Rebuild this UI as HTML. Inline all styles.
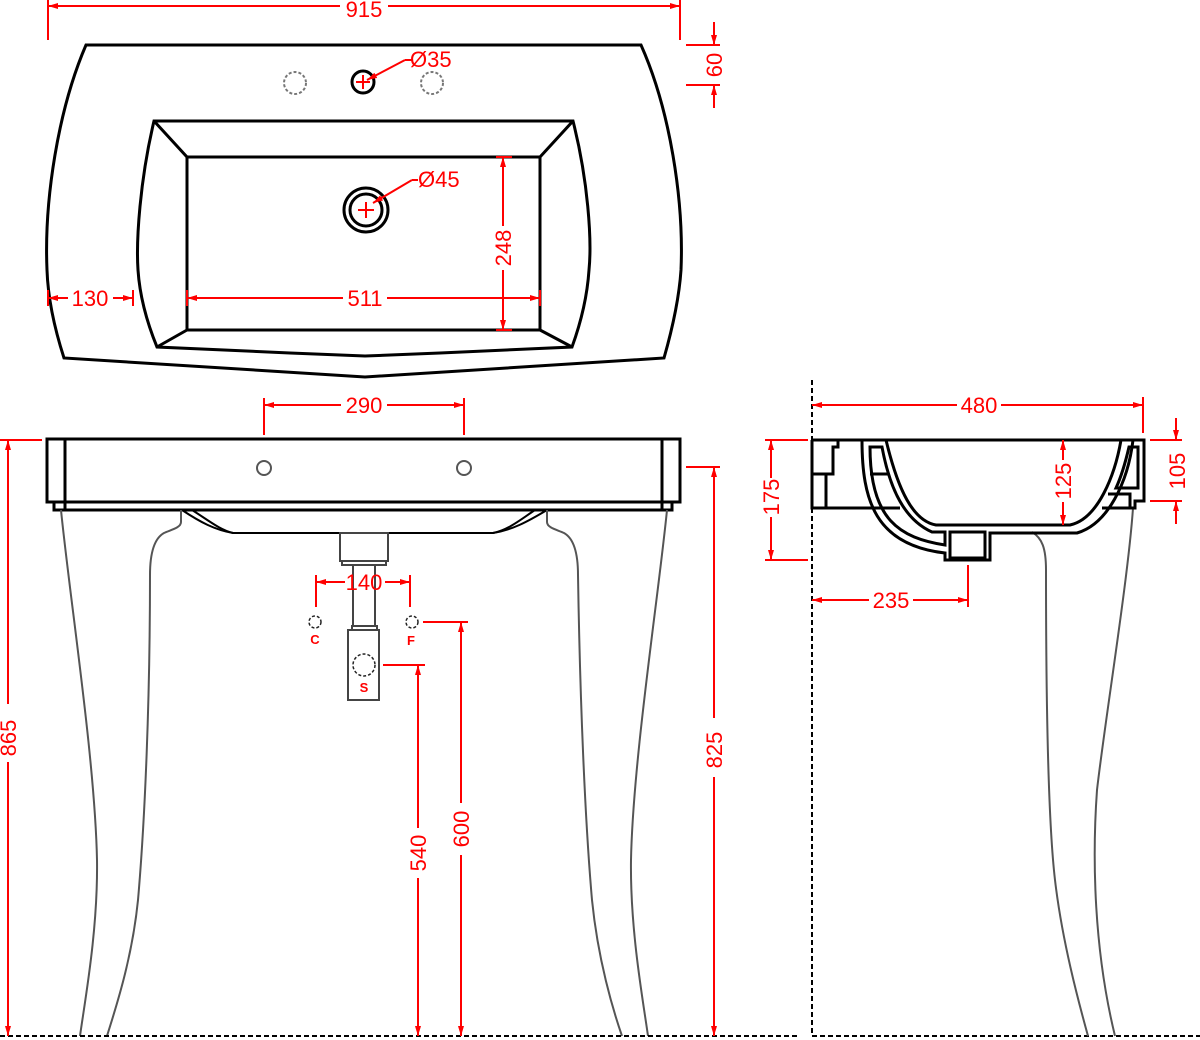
<!DOCTYPE html>
<html><head><meta charset="utf-8"><style>
html,body{margin:0;padding:0;background:#fff;}
svg{display:block;}
text{font-family:"Liberation Sans",sans-serif;fill:#f00;font-size:22px;}
.r{stroke:#f00;stroke-width:2;fill:none;}
.k{stroke:#000;stroke-width:3;fill:none;stroke-linejoin:miter;}
.k2{stroke:#000;stroke-width:2;fill:none;}
.g{stroke:#555;stroke-width:2;fill:none;}
</style></head><body>
<svg width="1200" height="1040" viewBox="0 0 1200 1040" xmlns="http://www.w3.org/2000/svg">
<defs>
<marker id="a" viewBox="0 0 10 6" refX="10" refY="3" markerWidth="10" markerHeight="6" orient="auto-start-reverse" markerUnits="userSpaceOnUse">
<path d="M0,0 L10,3 L0,6 z" fill="#f00"/></marker>
</defs>

<!-- ===== TOP VIEW ===== -->
<path class="k" d="M86,45 L641,45 C670,110 684,200 681,270 C679,300 672,330 664,358 L365,377 L64,358 C55,330 48,300 47,270 C44,200 58,110 86,45 Z"/>
<path class="k" d="M154,121 L573,121 C588,180 592,240 589,270 C587,300 580,325 572,347 L440,353 L365,356 L290,353 L157,347 C148,325 140,300 138,270 C136,240 140,180 154,121 Z"/>
<rect class="k" x="187" y="157" width="353" height="173"/>
<path class="k2" d="M154,121 L187,157 M573,121 L540,157 M157,347 L187,330 M572,347 L540,330" style="stroke-width:3"/>
<circle cx="295" cy="83" r="11" fill="none" stroke="#777" stroke-width="2" stroke-dasharray="3,2"/>
<circle cx="432" cy="83" r="11" fill="none" stroke="#777" stroke-width="2" stroke-dasharray="3,2"/>
<circle cx="363" cy="82" r="11" class="k"/>
<path class="r" d="M356,82 H370 M363,75 V89"/>
<ellipse cx="366" cy="210" rx="22" ry="22" class="k"/>
<ellipse cx="366" cy="210" rx="16" ry="16" class="k"/>
<path class="r" d="M358,210 H374 M366,202 V218"/>
<!-- 915 -->
<path class="r" d="M48,0 V40 M680,0 V40"/>
<line class="r" x1="48" y1="6" x2="340" y2="6" marker-start="url(#a)"/>
<line class="r" x1="388" y1="6" x2="680" y2="6" marker-end="url(#a)"/>
<text x="364" y="17" text-anchor="middle">915</text>
<!-- 60 -->
<path class="r" d="M686,45 H720 M686,85 H720"/>
<line class="r" x1="714" y1="22" x2="714" y2="45" marker-end="url(#a)"/>
<line class="r" x1="714" y1="108" x2="714" y2="85" marker-end="url(#a)"/>
<text transform="translate(722,65) rotate(-90)" text-anchor="middle">60</text>
<!-- Ø35 -->
<line class="r" x1="405" y1="60" x2="367" y2="80" marker-end="url(#a)"/>
<line class="r" x1="405" y1="60" x2="412" y2="60"/>
<text x="410" y="67">Ø35</text>
<!-- Ø45 -->
<line class="r" x1="412" y1="180" x2="373" y2="203" marker-end="url(#a)"/>
<line class="r" x1="412" y1="180" x2="418" y2="180"/>
<text x="418" y="187">Ø45</text>
<!-- 248 -->
<path class="r" d="M496,157 H512 M496,330 H512"/>
<line class="r" x1="503" y1="226" x2="503" y2="157" marker-end="url(#a)"/>
<line class="r" x1="503" y1="270" x2="503" y2="330" marker-end="url(#a)"/>
<text transform="translate(511,248) rotate(-90)" text-anchor="middle">248</text>
<!-- 511 -->
<path class="r" d="M187,290 V306 M540,290 V306"/>
<line class="r" x1="343" y1="298" x2="187" y2="298" marker-end="url(#a)"/>
<line class="r" x1="387" y1="298" x2="540" y2="298" marker-end="url(#a)"/>
<text x="365" y="306" text-anchor="middle">511</text>
<!-- 130 -->
<path class="r" d="M48,290 V306 M133,290 V306"/>
<line class="r" x1="68" y1="298" x2="48" y2="298" marker-end="url(#a)"/>
<line class="r" x1="113" y1="298" x2="133" y2="298" marker-end="url(#a)"/>
<text x="90" y="306" text-anchor="middle">130</text>

<!-- ===== FRONT VIEW ===== -->
<rect class="k" x="47" y="439" width="633" height="63"/>
<path class="k" d="M65,439 V510 M662,439 V510"/>
<path class="k" d="M54,502 V510 H672 V502"/>
<circle cx="264" cy="468" r="7" fill="none" stroke="#555" stroke-width="2"/>
<circle cx="464" cy="468" r="7" fill="none" stroke="#555" stroke-width="2"/>
<path class="k2" d="M182,510 C200,522 215,530 233,533 L493,533 C512,530 527,522 547,510"/>
<path class="k2" d="M192,510 C208,520 220,530 233,533 M535,510 C520,520 508,530 493,533"/>
<g stroke="#444" stroke-width="2" fill="#fff">
<rect x="340" y="533" width="48" height="28"/>
<rect x="342" y="561" width="44" height="4"/>
<rect x="353" y="565" width="22" height="61"/>
<rect x="352" y="626" width="25" height="4"/>
<rect x="348" y="630" width="31" height="70"/>
</g>
<circle cx="315" cy="622" r="6" fill="none" stroke="#222" stroke-width="1.5" stroke-dasharray="3,2"/>
<circle cx="412" cy="622" r="6" fill="none" stroke="#222" stroke-width="1.5" stroke-dasharray="3,2"/>
<circle cx="364" cy="665" r="11" fill="none" stroke="#222" stroke-width="1.5" stroke-dasharray="3,2"/>
<text x="315" y="644" text-anchor="middle" style="font-size:13px;font-weight:bold">C</text>
<text x="411" y="645" text-anchor="middle" style="font-size:13px;font-weight:bold">F</text>
<text x="364" y="692" text-anchor="middle" style="font-size:13px;font-weight:bold">S</text>
<path class="g" d="M61,510 C70,600 95,760 97,860 C98,930 85,1000 80,1036"/>
<path class="g" d="M181,510 V522 C181,528 170,530 164,533 C155,538 150,552 150,575 C150,700 145,820 138,900 C132,960 115,1010 107,1036"/>
<path class="g" d="M667,510 C658,600 633,760 631,860 C630,930 643,1000 648,1036"/>
<path class="g" d="M547,510 V522 C547,528 558,530 564,533 C573,538 578,552 578,575 C580,700 585,820 592,900 C598,960 613,1010 622,1036"/>
<line x1="0" y1="1036" x2="800" y2="1036" stroke="#000" stroke-width="2" stroke-dasharray="5,3"/>
<line x1="812" y1="1036" x2="1200" y2="1036" stroke="#000" stroke-width="2" stroke-dasharray="5,3"/>
<!-- 290 -->
<path class="r" d="M264,398 V435 M464,398 V435"/>
<line class="r" x1="341" y1="405" x2="264" y2="405" marker-end="url(#a)"/>
<line class="r" x1="387" y1="405" x2="464" y2="405" marker-end="url(#a)"/>
<text x="364" y="413" text-anchor="middle">290</text>
<!-- 865 -->
<path class="r" d="M0,440 H42"/>
<line class="r" x1="8" y1="704" x2="8" y2="440" marker-end="url(#a)"/>
<line class="r" x1="8" y1="762" x2="8" y2="1036" marker-end="url(#a)"/>
<text transform="translate(16,738) rotate(-90)" text-anchor="middle">865</text>
<!-- 825 -->
<path class="r" d="M686,467 H720"/>
<line class="r" x1="714" y1="718" x2="714" y2="467" marker-end="url(#a)"/>
<line class="r" x1="714" y1="777" x2="714" y2="1036" marker-end="url(#a)"/>
<text transform="translate(722,750) rotate(-90)" text-anchor="middle">825</text>
<!-- 600 -->
<path class="r" d="M423,622 H468"/>
<line class="r" x1="461" y1="803" x2="461" y2="622" marker-end="url(#a)"/>
<line class="r" x1="461" y1="855" x2="461" y2="1036" marker-end="url(#a)"/>
<text transform="translate(469,829) rotate(-90)" text-anchor="middle">600</text>
<!-- 540 -->
<path class="r" d="M383,665 H425"/>
<line class="r" x1="418" y1="828" x2="418" y2="665" marker-end="url(#a)"/>
<line class="r" x1="418" y1="878" x2="418" y2="1036" marker-end="url(#a)"/>
<text transform="translate(426,853) rotate(-90)" text-anchor="middle">540</text>
<!-- 140 -->
<path class="r" d="M316,575 V607 M410,575 V607"/>
<line class="r" x1="345" y1="582" x2="316" y2="582" marker-end="url(#a)"/>
<line class="r" x1="385" y1="582" x2="410" y2="582" marker-end="url(#a)"/>
<text x="364" y="590" text-anchor="middle">140</text>

<!-- ===== SIDE VIEW ===== -->
<line x1="812" y1="380" x2="812" y2="1036" stroke="#000" stroke-width="2" stroke-dasharray="5,3"/>
<path class="g" d="M1032,532 C1042,538 1046,548 1046,570 C1046,700 1048,820 1055,880 C1062,940 1078,1000 1088,1036"/>
<path class="g" d="M1133,508 C1128,580 1105,720 1097,790 C1092,860 1094,950 1115,1036"/>
<path class="k" d="M812,440 H1144 V501 H1135 V508 H1102"/>
<path class="k" d="M812,440 V508 H900"/>
<path class="k2" style="stroke-width:3" d="M838,440 V447 H833 V474 H812 M826,474 V508 M870,474 H888"/>
<path class="k" d="M862,440 C862,500 875,545 945,553 V560 H990 V533 H1077 C1108,524 1128,482 1133,440"/>
<path class="k" d="M886,440 C898,490 913,521 936,525 H1070 C1098,519 1115,475 1121,440"/>
<path class="k" d="M870,447 H882 C890,490 905,520 932,532 H945 V545 C900,538 870,520 870,447 Z"/>
<rect class="k" x="950" y="532" width="35" height="26"/>
<path class="k2" style="stroke-width:3" d="M1129,447 H1138 V488 H1116 C1122,475 1126,460 1129,447 Z M1108,494 H1130 V508"/>
<!-- 480 -->
<path class="r" d="M1143,397 V433"/>
<line class="r" x1="957" y1="405" x2="812" y2="405" marker-end="url(#a)"/>
<line class="r" x1="1001" y1="405" x2="1143" y2="405" marker-end="url(#a)"/>
<text x="979" y="413" text-anchor="middle">480</text>
<!-- 175 -->
<path class="r" d="M765,440 H808 M765,560 H808"/>
<line class="r" x1="771" y1="478" x2="771" y2="440" marker-end="url(#a)"/>
<line class="r" x1="771" y1="517" x2="771" y2="560" marker-end="url(#a)"/>
<text transform="translate(779,497) rotate(-90)" text-anchor="middle">175</text>
<!-- 235 -->
<path class="r" d="M968,565 V607"/>
<line class="r" x1="869" y1="600" x2="812" y2="600" marker-end="url(#a)"/>
<line class="r" x1="913" y1="600" x2="968" y2="600" marker-end="url(#a)"/>
<text x="891" y="608" text-anchor="middle">235</text>
<!-- 125 -->
<line class="r" x1="1063" y1="460" x2="1063" y2="440" marker-end="url(#a)"/>
<line class="r" x1="1063" y1="502" x2="1063" y2="525" marker-end="url(#a)"/>
<text transform="translate(1071,481) rotate(-90)" text-anchor="middle">125</text>
<!-- 105 -->
<path class="r" d="M1150,440 H1182 M1150,501 H1182"/>
<line class="r" x1="1176" y1="418" x2="1176" y2="440" marker-end="url(#a)"/>
<line class="r" x1="1176" y1="524" x2="1176" y2="501" marker-end="url(#a)"/>
<text transform="translate(1185,471) rotate(-90)" text-anchor="middle">105</text>
</svg>
</body></html>
